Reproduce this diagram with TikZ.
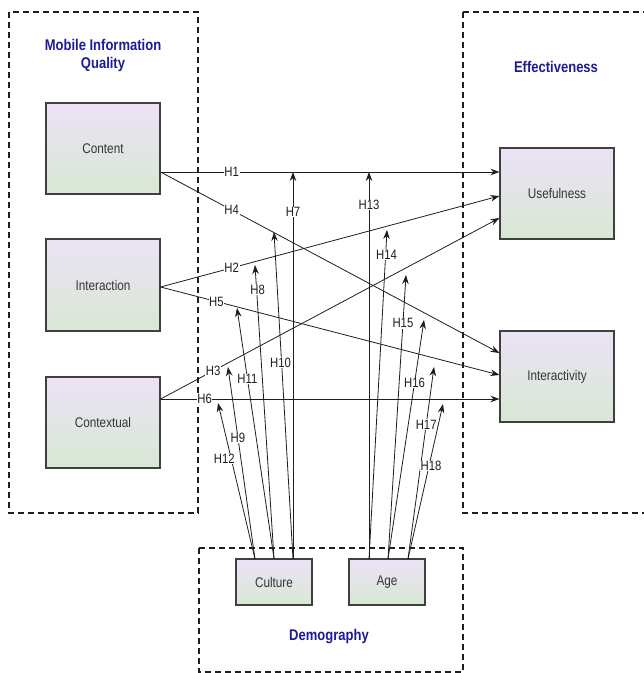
\documentclass[tikz,border=0pt]{standalone}
\usepackage{fontspec}
\setmainfont{Liberation Sans}[FakeStretch=0.84]
\usetikzlibrary{arrows.meta}
\definecolor{navy}{RGB}{28,28,150}
\definecolor{boxtop}{RGB}{236,226,246}
\definecolor{boxbot}{RGB}{216,232,212}
\definecolor{ink}{RGB}{30,30,30}
\tikzset{
  varbox/.style={draw=ink!85, line width=1.1pt, rectangle, inner sep=0pt,
    top color=boxtop, bottom color=boxbot, font=\fontsize{14}{15}\selectfont, text=ink!90},
  grpframe/.style={draw=ink, line width=1.8pt, dash pattern=on 6pt off 4pt},
  grptitle/.style={text=navy, font=\bfseries\fontsize{15.5}{18}\selectfont, align=center},
  hyp/.style={draw=ink, line width=0.8pt, -{Stealth[length=9pt,width=6.5pt]}},
  hlab/.style={fill=white, inner sep=0.6pt, text=ink, font=\fontsize{13.5}{14}\selectfont},
}
\begin{document}
\begin{tikzpicture}[x=1pt,y=-1pt]
\useasboundingbox (0,0) rectangle (644,673);
\fill[white] (0,0) rectangle (644,673);
% group frames
\draw[grpframe] (9,12) rectangle (198,513);
\draw[grpframe] (463,12) rectangle (660,513);
\draw[grpframe] (199,548) rectangle (463,672);
% titles
\node[grptitle] (tmiq) at (103,55) {Mobile Information\\Quality};
\node[grptitle] (teff) at (556,67) {Effectiveness};
\node[grptitle] (tdem) at (329,637) {Demography};
% boxes
\node[varbox, minimum width=114pt, minimum height=91pt] (content) at (103,148.5) {Content};
\node[varbox, minimum width=114pt, minimum height=92pt] (interaction) at (103,285) {Interaction};
\node[varbox, minimum width=114pt, minimum height=91pt] (contextual) at (103,422.5) {Contextual};
\node[varbox, minimum width=114pt, minimum height=91pt] (useful) at (557,193.5) {Usefulness};
\node[varbox, minimum width=114pt, minimum height=91pt] (interact) at (557,376.5) {Interactivity};
\node[varbox, minimum width=76pt, minimum height=46pt] (culture) at (274,582) {Culture};
\node[varbox, minimum width=76pt, minimum height=46pt] (age) at (387,582) {Age};
% anchor points
\coordinate (c1) at (content.east |- 0,172);
\coordinate (i1) at (interaction.east |- 0,287);
\coordinate (x1) at (contextual.east |- 0,399);
\coordinate (u1) at (useful.west |- 0,172);
\coordinate (u2) at (useful.west |- 0,196);
\coordinate (u3) at (useful.west |- 0,218);
\coordinate (a1) at (interact.west |- 0,353);
\coordinate (a2) at (interact.west |- 0,375);
\coordinate (a3) at (interact.west |- 0,399);
\coordinate (cuL) at (255,559);
\coordinate (cuM) at (culture.north);
\coordinate (cuR) at (293,559);
\coordinate (agL) at (369,559);
\coordinate (agM) at (388,559);
\coordinate (agR) at (408,559);
% targets on lines
\coordinate (t7) at (293,172);
\coordinate (t10) at (274,232);
\coordinate (t8) at (255,265);
\coordinate (t11) at (237,308);
\coordinate (t9) at (228,367);
\coordinate (t12) at (218,403);
\coordinate (t13) at (369,172);
\coordinate (t14) at (387,230);
\coordinate (t15) at (406,275);
\coordinate (t16) at (424,320);
\coordinate (t17) at (434,367);
\coordinate (t18) at (443,404);
% main hypotheses
\draw[hyp] (c1) -- node[hlab, pos=0.21] {H1} (u1);
\draw[hyp] (c1) -- node[hlab, pos=0.21] {H4} (a1);
\draw[hyp] (i1) -- node[hlab, pos=0.21] {H2} (u2);
\draw[hyp] (i1) -- node[hlab, pos=0.165] {H5} (a2);
\draw[hyp] (x1) -- node[hlab, pos=0.155] {H3} (u3);
\draw[hyp] (x1) -- node[hlab, pos=0.13] {H6} (a3);
% culture moderation
\draw[hyp] (cuR) -- node[hlab, pos=0.897] {H7} (t7);
\draw[hyp] (cuR) -- node[hlab, pos=0.60, xshift=-1pt] {H10} (t10);
\draw[hyp] (cuM) -- node[hlab, pos=0.915, xshift=1pt] {H8} (t8);
\draw[hyp] (cuM) -- node[hlab, pos=0.717] {H11} (t11);
\draw[hyp] (cuL) -- node[hlab, pos=0.63] {H9} (t9);
\draw[hyp] (cuL) -- node[hlab, pos=0.64, xshift=-7pt] {H12} (t12);
% age moderation
\draw[hyp] (agL) -- node[hlab, pos=0.915] {H13} (t13);
\draw[hyp] (agL) -- node[hlab, pos=0.924, xshift=1pt] {H14} (t14);
\draw[hyp] (agM) -- node[hlab, pos=0.83] {H15} (t15);
\draw[hyp] (agM) -- node[hlab, pos=0.736] {H16} (t16);
\draw[hyp] (agR) -- node[hlab, pos=0.70] {H17} (t17);
\draw[hyp] (agR) -- node[hlab, pos=0.60, xshift=2pt] {H18} (t18);
\end{tikzpicture}
\end{document}
